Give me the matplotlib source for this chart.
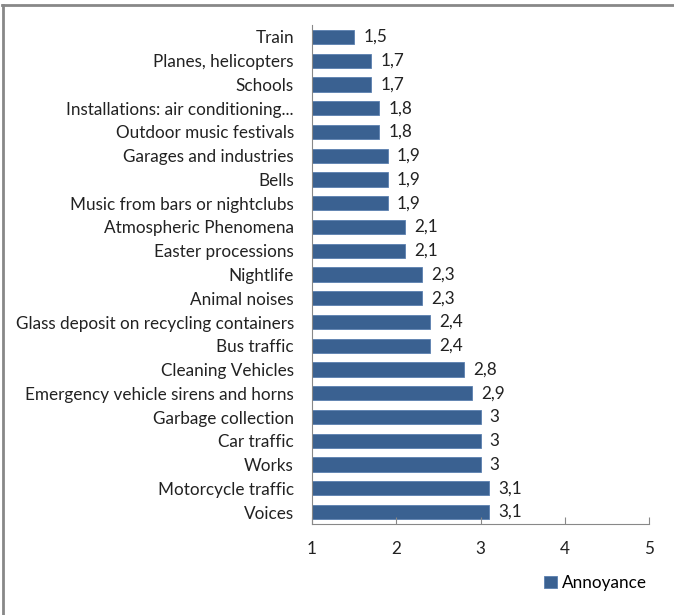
import matplotlib.pyplot as plt
from matplotlib.lines import Line2D

# noise sources, top to bottom as drawn
sources = [
    "Train", "Planes, helicopters", "Schools",
    "Installations: air conditioning...", "Outdoor music festivals",
    "Garages and industries", "Bells", "Music from bars or nightclubs",
    "Atmospheric Phenomena", "Easter processions", "Nightlife",
    "Animal noises", "Glass deposit on recycling containers", "Bus traffic",
    "Cleaning Vehicles", "Emergency vehicle sirens and horns",
    "Garbage collection", "Car traffic", "Works", "Motorcycle traffic",
    "Voices",
]
annoyance = [1.5, 1.7, 1.7, 1.8, 1.8, 1.9, 1.9, 1.9, 2.1, 2.1, 2.3,
             2.3, 2.4, 2.4, 2.8, 2.9, 3, 3, 3, 3.1, 3.1]

plt.rcParams['font.family'] = ['Lato', 'DejaVu Sans']
bar_color = '#3a6191'
fs = 12.3

fig = plt.figure(figsize=(6.74, 6.15), dpi=100)
ax = fig.add_axes([312 / 674, 1 - 524 / 615, (649 - 312) / 674, (524 - 25) / 615])

pos = range(len(sources))
bars = ax.barh(pos, [v - 1 for v in annoyance], left=1, height=0.6,
               color=bar_color, edgecolor='#5b80b0', linewidth=0.6,
               label='Annoyance')
ax.set_ylim(len(sources) - 0.5, -0.5)
ax.set_xlim(1, 5)
ax.set_xticks([1, 2, 3, 4, 5])
ax.set_yticks(list(pos))
ax.set_yticklabels(sources)

for y, v in zip(pos, annoyance):
    txt = ('%g' % v).replace('.', ',')
    ax.text(v + 0.11, y, txt, va='center', ha='left', fontsize=fs,
            color='#222222')

for side in ['top', 'right']:
    ax.spines[side].set_visible(False)
for side in ['left', 'bottom']:
    ax.spines[side].set_color('#888888')
ax.tick_params(axis='y', length=0, pad=13, labelsize=fs, labelcolor='#222222')
ax.tick_params(axis='x', direction='in', length=5, color='#888888',
               pad=12, labelsize=fs, labelcolor='#222222')

ax.legend(loc='upper left', bbox_to_anchor=(537 / 674, 1 - 568 / 615),
          bbox_transform=fig.transFigure, frameon=False, fontsize=fs,
          handlelength=0.75, handleheight=0.75, handletextpad=0.3,
          borderaxespad=0)

# outer frame (only top and left edges show)
fig.add_artist(Line2D([2 / 674, 1], [1 - 5 / 615, 1 - 5 / 615],
                      transform=fig.transFigure, color='#888888', lw=2))
fig.add_artist(Line2D([3 / 674, 3 / 674], [0, 1 - 5 / 615],
                      transform=fig.transFigure, color='#888888', lw=2))

fig.savefig('out.png', dpi=100)
